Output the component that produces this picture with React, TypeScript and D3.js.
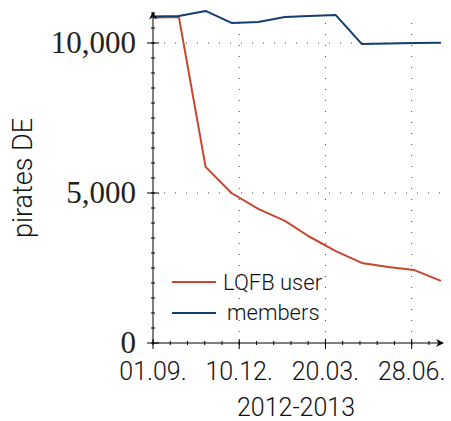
import React from 'react';
import * as d3 from 'd3';

// monthly snapshots, Sep 2012 - Aug 2013
const months = [
  '2012-09-01', '2012-10-01', '2012-11-01', '2012-12-01', '2013-01-01', '2013-02-01',
  '2013-03-01', '2013-04-01', '2013-05-01', '2013-06-01', '2013-07-01', '2013-08-01',
];
const lqfbUsers = [10850, 10870, 5870, 5000, 4470, 4070, 3550, 3060, 2670, 2530, 2430, 2070];
const members = [10880, 10900, 11070, 10670, 10700, 10870, 10900, 10930, 9970, 9980, 10000, 10010];

const xTickDates = ['2012-09-01', '2012-12-10', '2013-03-20', '2013-06-28'];
const yTicks = [0, 5000, 10000];

const RED = '#c8452f';
const BLUE = '#123f70';
const SANS = 'Roboto, sans-serif';
const SERIF = '"Liberation Serif", serif';

const parse = d3.utcParse('%Y-%m-%d');

const App: React.FC = () => {
  const width = 451;
  const height = 421;

  const start = parse(months[0])!;
  const end = parse(months[months.length - 1])!;

  const x = d3.scaleUtc().domain([start, end]).range([153, 441]);
  const y = d3.scaleLinear().domain([0, 11050]).range([343, 11.5]);

  const x0 = x.range()[0];
  const x1 = x.range()[1];
  const y0 = y(0);
  const yTop = y.range()[1];

  const line = d3.line<[Date, number]>()
    .x(d => x(d[0]))
    .y(d => y(d[1]));

  const dates = months.map(m => parse(m)!);
  const redPath = line(dates.map((d, i) => [d, lqfbUsers[i]]))!;
  const bluePath = line(dates.map((d, i) => [d, members[i]]))!;

  const xMajor = xTickDates.map(s => parse(s)!);
  const fmtX = d3.utcFormat('%d.%m.');
  // minor ticks every 20 days, 4 between majors
  const xMinor = d3.range(0, d3.utcDay.count(start, end) + 1, 20).map(n => d3.utcDay.offset(start, n));
  const yMinor = d3.range(0, 11001, 500);
  const fmtY = d3.format(',');

  return (
    <svg
      width={width}
      height={height}
      style={{ position: 'absolute', left: 0, top: 0, background: '#fff' }}
    >
      {/* grid */}
      <g stroke="#444" strokeWidth={1} strokeDasharray="1 10">
        {yTicks.filter(t => t > 0).map(t => (
          <line key={'gy' + t} x1={x0} x2={x1} y1={y(t)} y2={y(t)} />
        ))}
        {xMajor.slice(1).map((d, i) => (
          <line key={'gx' + i} x1={x(d)} x2={x(d)} y1={y0} y2={yTop + 4} />
        ))}
      </g>

      {/* data */}
      <path d={redPath} fill="none" stroke={RED} strokeWidth={2} strokeLinejoin="round" />
      <path d={bluePath} fill="none" stroke={BLUE} strokeWidth={2} strokeLinejoin="round" />

      {/* axes */}
      <g stroke="#000" strokeWidth={1}>
        <line x1={x0} x2={x0} y1={y0} y2={yTop + 2} />
        <line x1={x0} x2={x1 + 1} y1={y0} y2={y0} />
        {yMinor.map(t => (
          <line key={'my' + t} x1={x0 - 2} x2={x0 + 2} y1={y(t)} y2={y(t)} />
        ))}
        {xMinor.map((d, i) => (
          <line key={'mx' + i} x1={x(d)} x2={x(d)} y1={y0 - 2} y2={y0 + 2} />
        ))}
        {yTicks.map(t => (
          <line key={'ty' + t} x1={x0 - 6} x2={x0 + 6} y1={y(t)} y2={y(t)} />
        ))}
        {xMajor.map((d, i) => (
          <line key={'tx' + i} x1={x(d)} x2={x(d)} y1={y0 - 4} y2={y0 + 6} />
        ))}
      </g>
      <path d={`M${x0},${yTop} l-4,8 l4,-2.5 l4,2.5 z`} fill="#000" />
      <path d={`M${x1 + 3},${y0} l-8,-4 l2.5,4 l-2.5,4 z`} fill="#000" />

      {/* tick labels */}
      <g fontFamily={SERIF} fontSize={31} fill="#222" textAnchor="end">
        {yTicks.map(t => (
          <text key={'ly' + t} x={x0 - 17} y={y(t) + 10}>{fmtY(t)}</text>
        ))}
      </g>
      <g fontFamily={SANS} fontWeight={300} fontSize={25} fill="#111" textAnchor="middle">
        {xMajor.map((d, i) => (
          <text key={'lx' + i} x={x(d)} y={380}>{fmtX(d)}</text>
        ))}
        <text x={296} y={416}>2012-2013</text>
      </g>
      <text
        fontFamily={SANS}
        fontWeight={300}
        fontSize={27}
        fill="#111"
        textAnchor="middle"
        transform="translate(32,178) rotate(-90)"
      >
        pirates DE
      </text>

      {/* legend */}
      <g fontFamily={SANS} fontWeight={300} fontSize={22} fill="#111">
        <line x1={172} x2={216} y1={282} y2={282} stroke={RED} strokeWidth={2} />
        <text x={223} y={290}>LQFB user</text>
        <line x1={172} x2={216} y1={313} y2={313} stroke={BLUE} strokeWidth={2} />
        <text x={227} y={320}>members</text>
      </g>
    </svg>
  );
};

export default App;
